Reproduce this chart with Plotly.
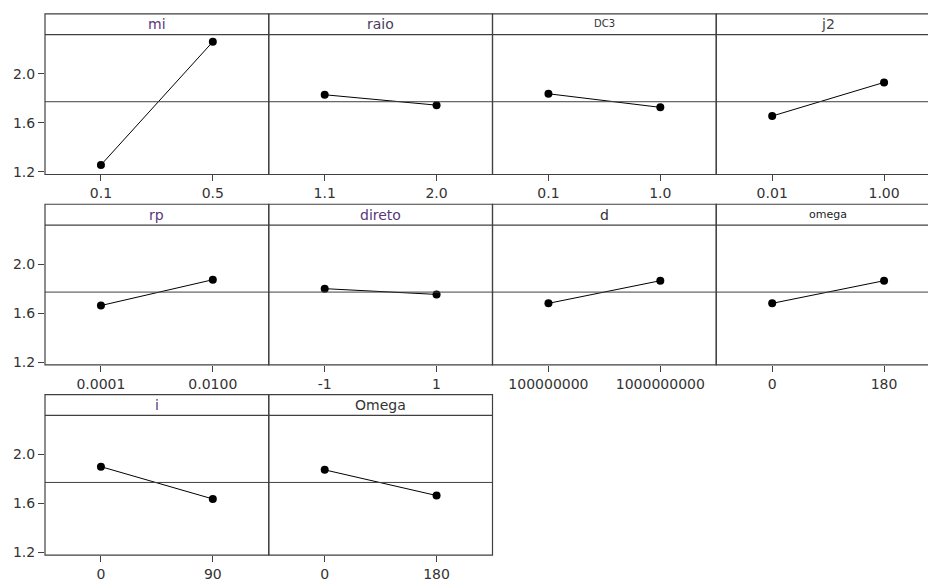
import plotly.graph_objects as go

# Main effects: mean response at the low and high level of each factor
factor_names = ["mi", "raio", "DC3", "j2", "rp", "direto", "d", "omega", "i", "Omega"]
level_labels = [
    ["0.1", "0.5"],
    ["1.1", "2.0"],
    ["0.1", "1.0"],
    ["0.01", "1.00"],
    ["0.0001", "0.0100"],
    ["-1", "1"],
    ["100000000", "1000000000"],
    ["0", "180"],
    ["0", "90"],
    ["0", "180"],
]
low_means = [1.255, 1.829, 1.837, 1.655, 1.662, 1.800, 1.680, 1.680, 1.901, 1.875]
high_means = [2.262, 1.744, 1.726, 1.930, 1.873, 1.753, 1.865, 1.865, 1.637, 1.665]
grand_mean = 1.772
y_ticks = [1.2, 1.6, 2.0]
y_tick_labels = ["1.2", "1.6", "2.0"]

title_colors = ["#58387a", "#4a3a5e", "#333333", "#444444", "#58387a",
                "#58387a", "#333333", "#222222", "#58387a", "#333333"]
title_sizes = [14, 14, 10, 14, 14, 14, 14, 11, 14, 14]

W, H = 928, 586
box_top = [14, 206, 398]
strip_bot = [35, 227, 419]
plot_bot = [176, 368, 560]
col_left = [45, 268.75, 492.5, 716.25]
col_w = 223.75
frame_color = "#404040"
font_family = "DejaVu Sans"


def px(x):
    return x / W


def py(y):
    return 1 - y / H


fig = go.Figure()
shapes = []
annotations = []

for k, name in enumerate(factor_names):
    row, col = divmod(k, 4)
    n = k + 1
    xa = "x" if n == 1 else f"x{n}"
    ya = "y" if n == 1 else f"y{n}"
    x0 = col_left[col]
    x1 = x0 + col_w
    x1_vis = min(x1, W)
    frac = (x1_vis - x0) / col_w

    fig.add_trace(go.Scatter(
        x=[0, 1], y=[low_means[k], high_means[k]],
        mode="lines+markers",
        line=dict(color="black", width=1),
        marker=dict(color="black", size=8),
        xaxis=xa, yaxis=ya, showlegend=False, hoverinfo="skip",
    ))

    xkey = "xaxis" if n == 1 else f"xaxis{n}"
    ykey = "yaxis" if n == 1 else f"yaxis{n}"
    fig.update_layout({
        xkey: dict(
            domain=[px(x0), px(x1_vis)],
            range=[-0.5, -0.5 + 2 * frac],
            tickvals=[0, 1], ticktext=level_labels[k],
            ticks="outside", ticklen=6, tickcolor=frame_color,
            showline=False, showgrid=False, zeroline=False,
            tickfont=dict(family=font_family, size=14, color="#333333"),
            anchor=ya, fixedrange=True,
        ),
        ykey: dict(
            domain=[py(plot_bot[row]), py(strip_bot[row])],
            range=[1.177, 2.32],
            tickvals=y_ticks, ticktext=y_tick_labels,
            ticks="outside" if col == 0 else "", ticklen=6, tickcolor=frame_color,
            showticklabels=(col == 0),
            showline=False, showgrid=False, zeroline=False,
            tickfont=dict(family=font_family, size=14, color="#333333"),
            anchor=xa, fixedrange=True,
        ),
    })

    # panel frame and strip divider
    shapes.append(dict(type="rect", xref="paper", yref="paper",
                       x0=px(x0), x1=px(x1), y0=py(plot_bot[row]), y1=py(box_top[row]),
                       line=dict(color=frame_color, width=1.2)))
    shapes.append(dict(type="line", xref="paper", yref="paper",
                       x0=px(x0), x1=px(x1), y0=py(strip_bot[row]), y1=py(strip_bot[row]),
                       line=dict(color=frame_color, width=1.2)))
    # grand mean reference line
    shapes.append(dict(type="line", xref=f"{xa} domain", yref=ya,
                       x0=0, x1=1, y0=grand_mean, y1=grand_mean,
                       line=dict(color=frame_color, width=1)))

    small = title_sizes[k] < 14
    annotations.append(dict(
        text=name, xref="paper", yref="paper",
        x=px(x0 + col_w / 2),
        y=py(box_top[row] + (2 if small else 10.5)),
        yanchor="top" if small else "middle", xanchor="center",
        showarrow=False,
        font=dict(family=font_family, size=title_sizes[k], color=title_colors[k]),
    ))

fig.update_layout(
    width=W, height=H,
    margin=dict(l=0, r=0, t=0, b=0),
    paper_bgcolor="white", plot_bgcolor="white",
    shapes=shapes, annotations=annotations,
    showlegend=False,
)

fig.write_html("out.html")
